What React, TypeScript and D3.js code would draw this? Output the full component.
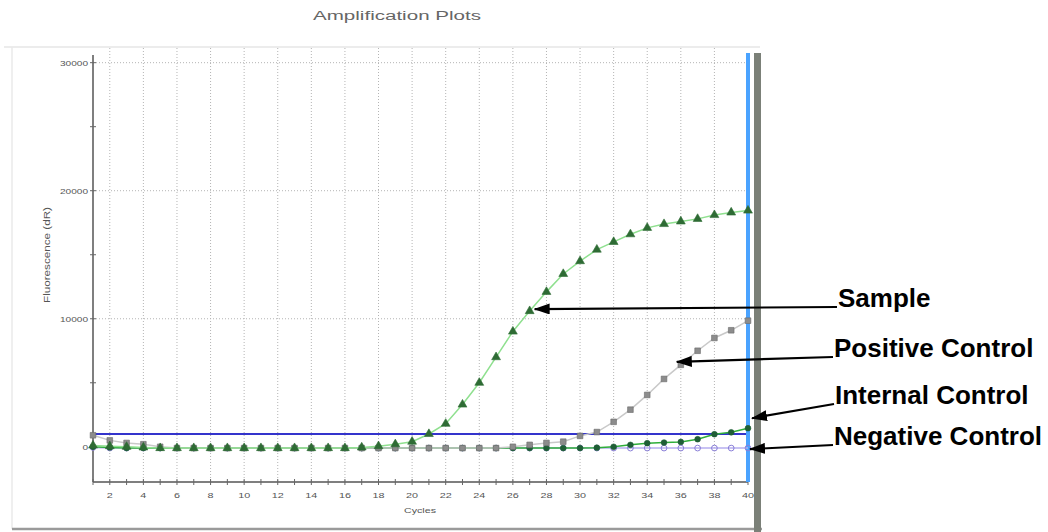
import { useEffect, useRef } from "react";
import * as d3 from "d3";

const cycles = [
  1, 2, 3, 4, 5, 6, 7, 8, 9, 10, 11, 12, 13, 14, 15, 16, 17, 18, 19, 20,
  21, 22, 23, 24, 25, 26, 27, 28, 29, 30, 31, 32, 33, 34, 35, 36, 37, 38, 39, 40,
];

const sampleValues = [
  100, 50, 0, -50, -100, -100, -100, -100, -100, -100, -100, -100, -100, -100, -100, -100,
  -50, 50, 200, 400, 1000, 1800, 3300, 5000, 7000, 9000, 10600, 12100, 13500, 14500,
  15400, 16000, 16600, 17100, 17400, 17600, 17800, 18100, 18300, 18450,
];

const positiveValues = [
  900, 500, 300, 200, 0, -100, -100, -100, -100, -100, -100, -100, -100, -100, -100, -100,
  -100, -100, -100, -100, -100, -100, -100, -100, -100, 0, 150, 300, 400, 850,
  1150, 1950, 2900, 4050, 5300, 6400, 7500, 8500, 9100, 9850,
];

const internalValues = [
  0, -50, -100, -100, -100, -100, -100, -100, -100, -100, -100, -100, -100, -100, -100, -100,
  -100, -100, -100, -100, -100, -100, -100, -100, -100, -100, -100, -100, -100, -100,
  -70, 0, 150, 280, 330, 380, 590, 980, 1130, 1450,
];

const negativeValues = [
  -50, -100, -100, -100, -100, -100, -100, -100, -100, -100, -100, -100, -100, -100, -100, -100,
  -100, -100, -100, -100, -100, -100, -100, -100, -100, -100, -100, -100, -100, -100,
  -100, -100, -100, -100, -100, -100, -100, -100, -100, -100,
];

const xTickLabels = [2, 4, 6, 8, 10, 12, 14, 16, 18, 20, 22, 24, 26, 28, 30, 32, 34, 36, 38, 40];
const yTickLabels = [0, 10000, 20000, 30000];
const yMinorTicks = [5000, 15000, 25000];
const thresholdValue = 1000;

const annotations = [
  { label: "Sample", cycle: 27, value: 10600 },
  { label: "Positive Control", cycle: 36, value: 6400 },
  { label: "Internal Control", cycle: 40, value: 1450 },
  { label: "Negative Control", cycle: 40, value: -100 },
];

type Pt = { c: number; v: number };

export default function App() {
  const svgRef = useRef<SVGSVGElement>(null);

  useEffect(() => {
    document.body.style.margin = "0";
    if (!svgRef.current) return;
    const svg = d3.select(svgRef.current);
    svg.selectAll("*").remove();

    const font = "'Liberation Sans', Arial, sans-serif";
    const x = d3.scaleLinear().domain([1, 40]).range([93, 748]);
    const y = d3.scaleLinear().domain([-2750, 30600]).range([482, 55]);

    // outer panel frame
    svg.append("line").attr("x1", 4).attr("x2", 760).attr("y1", 47).attr("y2", 47)
      .attr("stroke", "#e6e6e6").attr("stroke-width", 1.5);
    svg.append("line").attr("x1", 12).attr("x2", 12).attr("y1", 47).attr("y2", 529)
      .attr("stroke", "#eaeaea").attr("stroke-width", 1.5);
    svg.append("line").attr("x1", 12).attr("x2", 762).attr("y1", 529).attr("y2", 529)
      .attr("stroke", "#9a9a9a").attr("stroke-width", 2.5);
    svg.append("rect").attr("x", 754).attr("y", 53).attr("width", 7).attr("height", 479)
      .attr("fill", "#7b8078");

    svg.append("text")
      .attr("x", 397).attr("y", 20)
      .attr("text-anchor", "middle")
      .attr("font-family", font).attr("font-size", 12)
      .attr("fill", "#666")
      .attr("textLength", 168).attr("lengthAdjust", "spacingAndGlyphs")
      .text("Amplification Plots");

    // grid
    const g = svg.append("g");
    g.selectAll("line.vgrid")
      .data(xTickLabels.filter((c) => c < 40))
      .join("line")
      .attr("x1", (d) => x(d)).attr("x2", (d) => x(d))
      .attr("y1", 48).attr("y2", y.range()[0])
      .attr("stroke", "#b4b4b4").attr("stroke-dasharray", "1,2");
    g.selectAll("line.hgrid")
      .data(yTickLabels.filter((v) => v > 0))
      .join("line")
      .attr("x1", x(1)).attr("x2", x(40))
      .attr("y1", (d) => y(d)).attr("y2", (d) => y(d))
      .attr("stroke", "#b4b4b4").attr("stroke-dasharray", "1,2");

    // axes
    g.append("line").attr("x1", x(1)).attr("x2", x(1)).attr("y1", 55).attr("y2", 482)
      .attr("stroke", "#555").attr("stroke-width", 1.5);
    g.append("line").attr("x1", x(1)).attr("x2", x(40)).attr("y1", 482).attr("y2", 482)
      .attr("stroke", "#555").attr("stroke-width", 1.5);
    g.selectAll("line.xt").data(cycles).join("line")
      .attr("x1", (d) => x(d)).attr("x2", (d) => x(d))
      .attr("y1", 479).attr("y2", 485)
      .attr("stroke", "#666");
    g.selectAll("line.yt").data([...yTickLabels, ...yMinorTicks]).join("line")
      .attr("x1", x(1) - 3).attr("x2", x(1) + 3)
      .attr("y1", (d) => y(d)).attr("y2", (d) => y(d))
      .attr("stroke", "#666");

    g.selectAll("text.xl").data(xTickLabels).join("text")
      .attr("x", (d) => x(d)).attr("y", 498)
      .attr("text-anchor", "middle")
      .attr("font-family", font).attr("font-size", 8).attr("fill", "#555")
      .attr("textLength", (d) => String(d).length * 6)
      .attr("lengthAdjust", "spacingAndGlyphs")
      .text((d) => String(d));
    g.selectAll("text.yl").data(yTickLabels).join("text")
      .attr("x", x(1) - 5).attr("y", (d) => y(d) + 3)
      .attr("text-anchor", "end")
      .attr("font-family", font).attr("font-size", 8).attr("fill", "#555")
      .attr("textLength", (d) => String(d).length * 5.6)
      .attr("lengthAdjust", "spacingAndGlyphs")
      .text((d) => String(d));

    g.append("text")
      .attr("x", 420).attr("y", 513)
      .attr("text-anchor", "middle")
      .attr("font-family", font).attr("font-size", 8).attr("fill", "#555")
      .attr("textLength", 32).attr("lengthAdjust", "spacingAndGlyphs")
      .text("Cycles");
    g.append("text")
      .attr("transform", `translate(50,255) rotate(-90)`)
      .attr("text-anchor", "middle")
      .attr("font-family", font).attr("font-size", 9).attr("fill", "#555")
      .attr("textLength", 96).attr("lengthAdjust", "spacingAndGlyphs")
      .text("Fluorescence (dR)");

    // threshold and end-cycle marker lines
    g.append("line")
      .attr("x1", x(1)).attr("x2", x(40))
      .attr("y1", y(thresholdValue)).attr("y2", y(thresholdValue))
      .attr("stroke", "#3434cc").attr("stroke-width", 2);
    g.append("line")
      .attr("x1", x(40)).attr("x2", x(40)).attr("y1", 53).attr("y2", 482)
      .attr("stroke", "#4aa3ff").attr("stroke-width", 4);

    const toPts = (vals: number[]): Pt[] => cycles.map((c, i) => ({ c, v: vals[i] }));
    const line = d3.line<Pt>().x((d) => x(d.c)).y((d) => y(d.v));

    const series = [
      { vals: negativeValues, line: "#b7aef0", sym: "circleOpen", fill: "none", stroke: "#8a7fd8" },
      { vals: internalValues, line: "#2fae3a", sym: "circle", fill: "#1f5e35", stroke: "#1f5e35" },
      { vals: positiveValues, line: "#c9c9c9", sym: "square", fill: "#8c8c8c", stroke: "#6a6a6a" },
      { vals: sampleValues, line: "#8fe08f", sym: "triangle", fill: "#2e6b34", stroke: "#2e6b34" },
    ];

    series.forEach((s) => {
      const pts = toPts(s.vals);
      g.append("path").datum(pts)
        .attr("fill", "none").attr("stroke", s.line).attr("stroke-width", 1.5)
        .attr("d", line);
      const symType =
        s.sym === "triangle" ? d3.symbolTriangle :
        s.sym === "square" ? d3.symbolSquare : d3.symbolCircle;
      const size = s.sym === "square" ? 32 : s.sym === "triangle" ? 34 : 26;
      g.selectAll(null).data(pts).join("path")
        .attr("transform", (d) => `translate(${x(d.c)},${y(d.v)})`)
        .attr("d", d3.symbol().type(symType).size(size)())
        .attr("fill", s.fill)
        .attr("stroke", s.stroke)
        .attr("stroke-width", s.sym === "circleOpen" ? 1 : 0.6);
    });

    // annotations with arrows
    const defs = svg.append("defs");
    defs.append("marker")
      .attr("id", "arrowhead")
      .attr("markerUnits", "userSpaceOnUse")
      .attr("markerWidth", 16).attr("markerHeight", 11)
      .attr("refX", 15).attr("refY", 5.5)
      .attr("orient", "auto")
      .append("path").attr("d", "M0,0 L16,5.5 L0,11 Z").attr("fill", "#000");

    const textPos = [
      { tx: 838, ty: 307, dx: 5, dy: -2 },
      { tx: 834, ty: 357, dx: -4, dy: -3 },
      { tx: 835, ty: 404, dx: 4, dy: -10 },
      { tx: 834, ty: 445, dx: 2, dy: 1 },
    ];

    annotations.forEach((a, i) => {
      const p = textPos[i];
      svg.append("line")
        .attr("x1", p.tx - 1).attr("y1", p.ty)
        .attr("x2", x(a.cycle) + p.dx).attr("y2", y(a.value) + p.dy)
        .attr("stroke", "#000").attr("stroke-width", 2.2)
        .attr("marker-end", "url(#arrowhead)");
      svg.append("text")
        .attr("x", p.tx).attr("y", p.ty)
        .attr("font-family", font).attr("font-weight", "bold")
        .attr("font-size", 26).attr("fill", "#000")
        .text(a.label);
    });
  }, []);

  return <svg ref={svgRef} width={1048} height={532} style={{ display: "block" }} />;
}
